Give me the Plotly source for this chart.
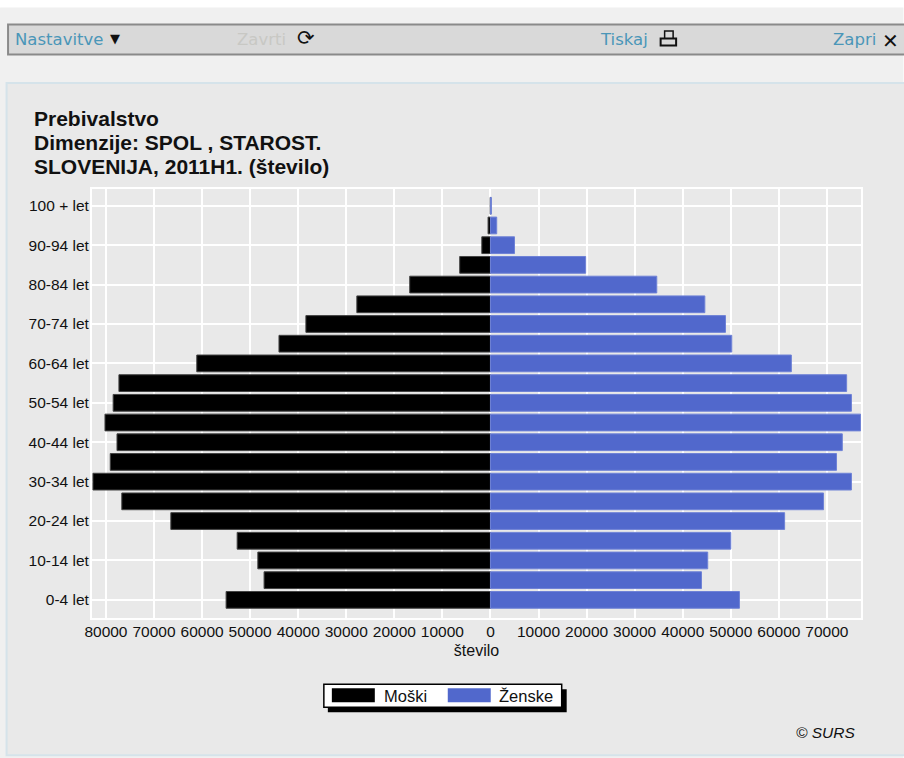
import plotly.graph_objects as go

categories = ["0-4 let","5-9 let","10-14 let","15-19 let","20-24 let","25-29 let","30-34 let",
              "35-39 let","40-44 let","45-49 let","50-54 let","55-59 let","60-64 let","65-69 let",
              "70-74 let","75-79 let","80-84 let","85-89 let","90-94 let","95-99 let","100 + let"]
moski = [55000,47100,48400,52700,66500,76700,82700,79100,77700,80200,78500,77300,61100,44000,
         38400,27800,16800,6400,1800,500,50]
zenske = [51800,43900,45200,50000,61200,69300,75100,72000,73200,77000,75100,74100,62600,50200,
          48900,44600,34600,19800,5000,1300,200]
x_ticks = [-80000,-70000,-60000,-50000,-40000,-30000,-20000,-10000,0,10000,20000,30000,40000,50000,60000,70000]
y_ticks = categories[::2]
title_lines = ["Prebivalstvo", "Dimenzije: SPOL , STAROST.", "SLOVENIJA, 2011H1. (število)"]

W, H = 904, 758
L, R, T, B = 92, 861.5, 188.5, 617.7
FONT = "Liberation Sans"
LINK = "#4a96b8"

def px(x): return (x - L) / (R - L)
def py(y): return (B - y) / (B - T)

def rect(x0, y0, x1, y1, fill, line=None, width=1):
    return dict(type="rect", xref="paper", yref="paper", layer="below",
                x0=px(x0), x1=px(x1), y0=py(y0), y1=py(y1), fillcolor=fill,
                line=dict(color=line or fill, width=width if line else 0))

def note(x, y, text, size=14, color="#111", anchor="left", family=FONT):
    return dict(xref="paper", yref="paper", x=px(x), y=py(y), text=text, showarrow=False,
                xanchor=anchor, yanchor="middle", xshift=-1,
                font=dict(family=family, size=size, color=color))

fig = go.Figure()
fig.add_bar(name="Moški", y=categories, x=[-v for v in moski], orientation="h",
            marker=dict(color="#000000", line=dict(color="#444444", width=1)))
fig.add_bar(name="Ženske", y=categories, x=zenske, orientation="h",
            marker=dict(color="#5168cc", line=dict(color="#6f82d6", width=1)))

shapes = [
    rect(0, 7, W, H, "#f0f0f0"),
    rect(8, 24, 910, 54, "#d9d9d9", "#8a8a8a", 2),
    rect(6.5, 82.5, 910, 755, "#e9e9e9", "#d5e3ea", 2),
    rect(665, 30.5, 673.5, 41, "#d9d9d9", "#111111", 1.5),
    rect(661, 38, 676.5, 45, "#d9d9d9", "#111111", 2),
    rect(328, 689, 567, 712, "#000000"),
    rect(324, 684, 562, 707, "#ffffff", "#000000", 1.5),
    rect(332, 688, 375, 702, "#000000"),
    rect(448, 688, 491, 702, "#5168cc"),
]
annotations = [
    note(13.5, 39, "Nastavitve", 16.5, LINK, family="DejaVu Sans"),
    note(109, 38, "▼", 13, "#111", family="DejaVu Sans"),
    note(236.5, 39, "Zavrti", 16.5, "#c8c8c4", family="DejaVu Sans"),
    note(296, 37, "⟳", 21, "#111", family="DejaVu Sans"),
    note(599.5, 39, "Tiskaj", 16.5, LINK, family="DejaVu Sans"),
    note(832.5, 39, "Zapri", 16.5, LINK, family="DejaVu Sans"),
    note(882, 40, "<b>✕</b>", 20, "#111", family="DejaVu Sans"),
    note(383, 696, "Moški", 16.5),
    note(498, 696, "Ženske", 16.5),
    note(795, 732, "<i>© SURS</i>", 15.5),
]
for ly, line in zip([117.5, 141.5, 166], title_lines):
    annotations.append(note(33, ly, f"<b>{line}</b>", 21, "#111"))

fig.update_layout(
    width=W, height=H, autosize=False, showlegend=False,
    margin=dict(l=L, r=W - R, t=T, b=H - B),
    paper_bgcolor="#ffffff", plot_bgcolor="#dedede",
    barmode="relative", bargap=0.15,
    font=dict(family=FONT, size=14, color="#111"),
    xaxis=dict(range=[-82900, 77090], tickvals=x_ticks, ticktext=[str(abs(v)) for v in x_ticks],
               gridcolor="#ffffff", gridwidth=2, zeroline=False, showline=True, linecolor="#ffffff",
               linewidth=2, mirror=True, ticks="", tickfont=dict(size=15.5, color="#111"), tickangle=0,
               ticklabelstandoff=-2,
               title=dict(text="število", font=dict(size=16, color="#111"), standoff=6)),
    yaxis=dict(type="category", categoryorder="array", categoryarray=categories, range=[-0.92, 20.85],
               tickmode="array", tickvals=y_ticks, ticktext=y_ticks, ticklabelstandoff=-2,
               gridcolor="#ffffff", gridwidth=2, zeroline=False, showline=True, linecolor="#ffffff",
               linewidth=2, mirror=True, ticks="", tickfont=dict(size=15.5, color="#111")),
    shapes=shapes, annotations=annotations,
)

fig.write_html("out.html", config=dict(displayModeBar=False),
               post_script="document.body.style.margin='0';document.body.style.overflow='hidden';")
